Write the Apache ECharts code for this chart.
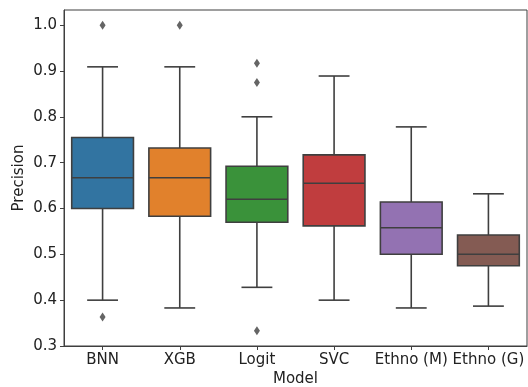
<!DOCTYPE html>
<html>
<head>
<meta charset="utf-8">
<script src="https://cdn.jsdelivr.net/npm/echarts@6/dist/echarts.min.js"></script>
<style>html,body{margin:0;padding:0;background:#fff;}#c{width:528px;height:387px;}</style>
</head>
<body>
<div id="c"></div>
<script>
var categories = ['BNN', 'XGB', 'Logit', 'SVC', 'Ethno (M)', 'Ethno (G)'];
var lowerWhisker = [0.400, 0.383, 0.428, 0.400, 0.383, 0.387];
var q1Values     = [0.600, 0.583, 0.570, 0.562, 0.500, 0.475];
var medianValues = [0.667, 0.667, 0.620, 0.655, 0.558, 0.500];
var q3Values     = [0.755, 0.732, 0.692, 0.717, 0.614, 0.542];
var upperWhisker = [0.909, 0.909, 0.800, 0.889, 0.778, 0.632];
var outlierCats  = ['BNN', 'BNN', 'XGB', 'Logit', 'Logit', 'Logit'];
var outlierVals  = [1.000, 0.363, 1.000, 0.917, 0.875, 0.333];
var boxColors = ['#3274a1', '#e1812c', '#3a923a', '#c03d3e', '#9372b2', '#845b53'];
var yTicks = [0.3, 0.4, 0.5, 0.6, 0.7, 0.8, 0.9, 1.0];

var edge = '#3f3f3f';
var font = 'DejaVu Sans';
var fs = 15;

var boxData = categories.map(function (c, i) {
  return [i, lowerWhisker[i], q1Values[i], medianValues[i], q3Values[i], upperWhisker[i]];
});
var outlierData = outlierCats.map(function (c, i) { return [categories.indexOf(c), outlierVals[i]]; });

function renderBox(params, api) {
  var i = api.value(0);
  var band = api.size([1, 0])[0];
  var hw = band * 0.4;
  var cw = band * 0.2;
  var pLow = api.coord([i, api.value(1)]);
  var pQ1 = api.coord([i, api.value(2)]);
  var pMed = api.coord([i, api.value(3)]);
  var pQ3 = api.coord([i, api.value(4)]);
  var pHigh = api.coord([i, api.value(5)]);
  var x = pQ1[0];
  var ls = { stroke: edge, lineWidth: 1.6 };
  return {
    type: 'group',
    children: [
      { type: 'line', shape: { x1: x, y1: pLow[1], x2: x, y2: pQ1[1] }, style: ls },
      { type: 'line', shape: { x1: x, y1: pQ3[1], x2: x, y2: pHigh[1] }, style: ls },
      { type: 'line', shape: { x1: x - cw, y1: pLow[1], x2: x + cw, y2: pLow[1] }, style: ls },
      { type: 'line', shape: { x1: x - cw, y1: pHigh[1], x2: x + cw, y2: pHigh[1] }, style: ls },
      { type: 'rect', shape: { x: x - hw, y: pQ3[1], width: hw * 2, height: pQ1[1] - pQ3[1] },
        style: { fill: boxColors[i], stroke: edge, lineWidth: 1.6 } },
      { type: 'line', shape: { x1: x - hw, y1: pMed[1], x2: x + hw, y2: pMed[1] }, style: ls }
    ]
  };
}

var chart = echarts.init(document.getElementById('c'), null, { renderer: 'canvas' });
chart.setOption({
  animation: false,
  backgroundColor: '#fff',
  grid: { left: 64, right: 1, top: 10, bottom: 41, containLabel: false, outerBoundsMode: 'none',
    show: true, borderColor: edge, borderWidth: 1, backgroundColor: 'transparent' },
  xAxis: {
    type: 'category',
    data: categories,
    boundaryGap: true,
    name: 'Model',
    nameLocation: 'middle',
    nameGap: 26,
    nameMoveOverlap: false,
    nameTextStyle: { fontFamily: font, fontSize: fs, color: '#222' },
    axisLine: { show: true, lineStyle: { color: edge, width: 1 } },
    axisTick: { show: true, alignWithLabel: true, length: 4, lineStyle: { color: edge } },
    axisLabel: { fontFamily: font, fontSize: fs, color: '#222', margin: 7, interval: 0, hideOverlap: false },
    splitLine: { show: false }
  },
  yAxis: {
    type: 'value',
    min: 0.3,
    max: 1.033,
    interval: 0.1,
    name: 'Precision',
    nameLocation: 'middle',
    nameGap: 37,
    nameMoveOverlap: false,
    nameRotate: 90,
    nameTextStyle: { fontFamily: font, fontSize: fs, color: '#222' },
    axisLine: { show: true, lineStyle: { color: edge, width: 1 } },
    axisTick: { show: true, length: 4, lineStyle: { color: edge }, customValues: yTicks },
    axisLabel: { fontFamily: font, fontSize: fs, color: '#222', margin: 7, customValues: yTicks,
      formatter: function (v) { return v.toFixed(1); } },
    splitLine: { show: false }
  },
  series: [
    {
      type: 'custom',
      renderItem: renderBox,
      data: boxData,
      encode: { x: 0, y: [1, 2, 3, 4, 5] },
      z: 2
    },
    {
      type: 'scatter',
      data: outlierData,
      symbol: 'diamond',
      symbolSize: [6, 9],
      itemStyle: { color: edge },
      z: 3
    }
  ]
});
</script>
</body>
</html>
